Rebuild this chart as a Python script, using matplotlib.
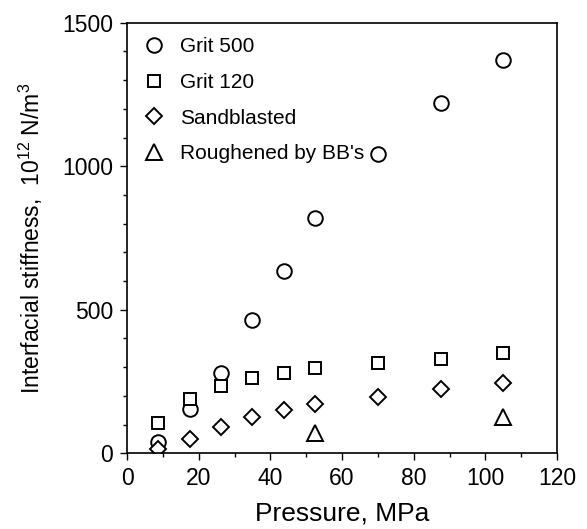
import matplotlib
matplotlib.use("Agg")
import matplotlib.pyplot as plt
from matplotlib.ticker import MultipleLocator

plt.rcParams['font.family'] = ['Liberation Sans', 'DejaVu Sans']
plt.rcParams['mathtext.fontset'] = 'custom'
plt.rcParams['mathtext.rm'] = 'Liberation Sans'
plt.rcParams['mathtext.it'] = 'Liberation Sans:italic'
plt.rcParams['mathtext.bf'] = 'Liberation Sans:bold'

pressure = [8.75, 17.5, 26.25, 35, 43.75, 52.5, 70, 87.5, 105]
grit500 = [40, 153, 279, 464, 636, 819, 1043, 1219, 1370]
grit120 = [104, 188, 234, 261, 279, 296, 313, 327, 348]
sandblasted = [15, 50, 93, 128, 151, 171, 197, 223, 244]
bb_pressure = [52.5, 105]
bb = [70, 125]

fig = plt.figure(figsize=(5.87, 5.29), dpi=100)
ax = fig.add_axes([0.2164, 0.1431, 0.7326, 0.8140])

kw = dict(linestyle='none', markerfacecolor='white', markeredgecolor='black', markeredgewidth=1.4)
ax.plot(pressure, grit500, marker='o', markersize=10.5, label='Grit 500', **kw)
ax.plot(pressure, grit120, marker='s', markersize=9, label='Grit 120', **kw)
ax.plot(pressure, sandblasted, marker='D', markersize=8.3, label='Sandblasted', **kw)
ax.plot(bb_pressure, bb, marker='^', markersize=11, label="Roughened by BB's", **kw)

ax.set_xlim(0, 120)
ax.set_ylim(0, 1500)
ax.xaxis.set_major_locator(MultipleLocator(20))
ax.xaxis.set_minor_locator(MultipleLocator(10))
ax.yaxis.set_major_locator(MultipleLocator(500))
ax.yaxis.set_minor_locator(MultipleLocator(100))
ax.tick_params(which='both', direction='out', top=False, right=False, width=1.0, labelsize=16.5, pad=5)
ax.tick_params(which='major', length=5)
ax.tick_params(which='minor', length=3)
for s in ax.spines.values():
    s.set_linewidth(1.2)

ax.set_xlabel('Pressure, MPa', fontsize=19, labelpad=8)
ax.set_ylabel(r'Interfacial stiffness,  10$^{\mathregular{12}}$ N/m$^{\mathregular{3}}$', fontsize=16.5, labelpad=12)

leg = ax.legend(loc='upper left', frameon=False, fontsize=15, handlelength=1.0,
                handletextpad=0.75, labelspacing=0.8, borderaxespad=0.3,
                bbox_to_anchor=(0.005, 1.0))

fig.savefig('out.png', dpi=100)
